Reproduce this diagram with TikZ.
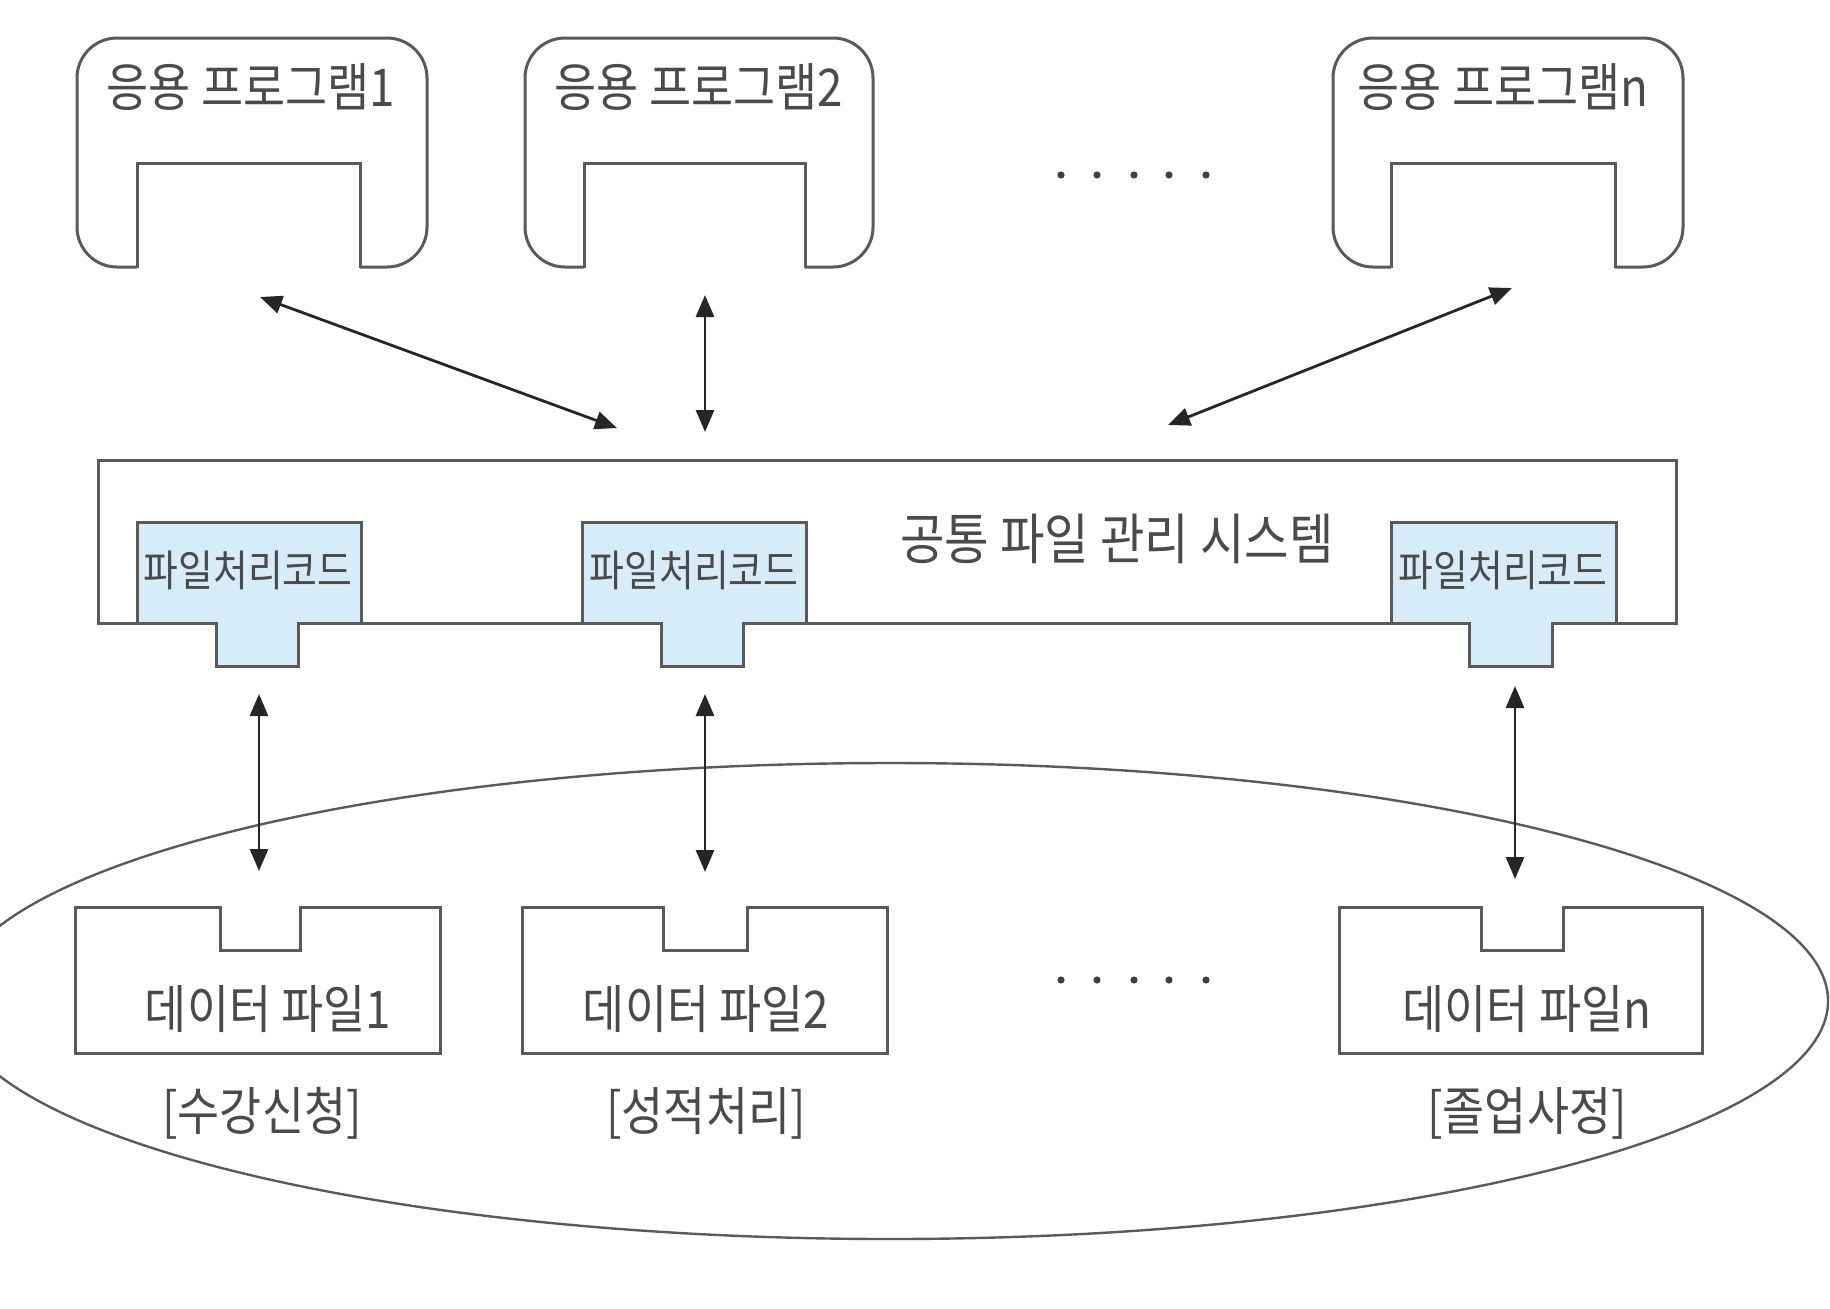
\documentclass[tikz,border=0pt]{standalone}
\usepackage{fontspec}
\newfontfamily\krfont[FakeStretch=0.88]{Noto Sans CJK KR}
\usetikzlibrary{arrows.meta}

\definecolor{linegray}{HTML}{5A5A5A}
\definecolor{textgray}{HTML}{4A4A4A}
\definecolor{codeblue}{HTML}{D6ECF8}

\begin{document}
\begin{tikzpicture}[x=0.5pt, y=-0.5pt,
  shapeline/.style={draw=linegray, line width=1.5pt},
  bigtext/.style={text=textgray, font=\krfont\fontsize{26}{30}\selectfont, inner sep=0pt},
  systext/.style={text=textgray, font=\krfont\fontsize{27.5}{32}\selectfont, inner sep=0pt},
  codetext/.style={text=textgray, font=\krfont\fontsize{21.5}{25}\selectfont, inner sep=0pt},
  twoway/.style={{Triangle[length=11pt,width=9pt]}-{Triangle[length=11pt,width=9pt]}, draw=black!85, line width=1.4pt}]
  \clip (0,0) rectangle (1830,1308);

  % application programs
  \draw[shapeline, rounded corners=20pt] (77,38) rectangle (427,267);
  \fill[white] (137,163) rectangle (360,272);
  \draw[shapeline] (137,268) -- (137,163) -- (360,163) -- (360,268);
  \node[bigtext] (app1) at (251,87) {응용 프로그램1};

  \draw[shapeline, rounded corners=20pt] (525,38) rectangle (873,267);
  \fill[white] (584,163) rectangle (805,272);
  \draw[shapeline] (584,268) -- (584,163) -- (805,163) -- (805,268);
  \node[bigtext] (app2) at (699,87) {응용 프로그램2};

  \draw[shapeline, rounded corners=20pt] (1333,38) rectangle (1683,267);
  \fill[white] (1391,163) rectangle (1615,272);
  \draw[shapeline] (1391,268) -- (1391,163) -- (1615,163) -- (1615,268);
  \node[bigtext] (appn) at (1503,87) {응용 프로그램n};

  \foreach \x in {1061,1097,1134,1169,1206}
    \fill[black!75] (\x,175) circle (1.8pt);

  % common file system
  \draw[shapeline] (98,460) rectangle (1676,623);
  \node[systext] (sys) at (1117,539) {공통 파일 관리 시스템};

  \filldraw[shapeline, fill=codeblue] (137,522) -- (361,522) -- (361,623) -- (298,623) -- (298,666) -- (216,666) -- (216,623) -- (137,623) -- cycle;
  \node[codetext] (code1) at (248,570) {파일처리코드};
  \filldraw[shapeline, fill=codeblue] (582,522) -- (806,522) -- (806,623) -- (743,623) -- (743,666) -- (661,666) -- (661,623) -- (582,623) -- cycle;
  \node[codetext] (code2) at (694,570) {파일처리코드};
  \filldraw[shapeline, fill=codeblue] (1391,522) -- (1616,522) -- (1616,623) -- (1552,623) -- (1552,666) -- (1469,666) -- (1469,623) -- (1391,623) -- cycle;
  \node[codetext] (code3) at (1503,570) {파일처리코드};

  % data files
  \draw[draw=linegray, line width=1.2pt] (890,1001) ellipse [x radius=469pt, y radius=119pt];

  \draw[shapeline] (75,907) -- (220,907) -- (220,950) -- (300,950) -- (300,907) -- (440,907) -- (440,1053) -- (75,1053) -- cycle;
  \node[bigtext] (data1) at (268,1009) {데이터 파일1};
  \node[bigtext] (cap1) at (262,1113) {[수강신청]};

  \draw[shapeline] (522,907) -- (663,907) -- (663,950) -- (747,950) -- (747,907) -- (887,907) -- (887,1053) -- (522,1053) -- cycle;
  \node[bigtext] (data2) at (706,1009) {데이터 파일2};
  \node[bigtext] (cap2) at (706,1113) {[성적처리]};

  \draw[shapeline] (1339,907) -- (1481,907) -- (1481,950) -- (1563,950) -- (1563,907) -- (1702,907) -- (1702,1053) -- (1339,1053) -- cycle;
  \node[bigtext] (data3) at (1527,1009) {데이터 파일n};
  \node[bigtext] (cap3) at (1527,1113) {[졸업사정]};

  \foreach \x in {1061,1097,1134,1169,1206}
    \fill[black!75] (\x,980) circle (1.8pt);

  % arrows
  \coordinate (a1s) at (260,297);
  \coordinate (a1e) at (617,428);
  \coordinate (a2s) at (705,295);
  \coordinate (a2e) at (705,432);
  \coordinate (a3s) at (1512,288);
  \coordinate (a3e) at (1168,425);
  \coordinate (b1s) at (259,694);
  \coordinate (b1e) at (259,871);
  \coordinate (b2s) at (705,694);
  \coordinate (b2e) at (705,872);
  \coordinate (b3s) at (1515,686);
  \coordinate (b3e) at (1515,879);
  \draw[twoway] (a1s) -- (a1e);
  \draw[twoway] (a2s) -- (a2e);
  \draw[twoway] (a3s) -- (a3e);
  \draw[twoway] (b1s) -- (b1e);
  \draw[twoway] (b2s) -- (b2e);
  \draw[twoway] (b3s) -- (b3e);
\end{tikzpicture}
\end{document}
